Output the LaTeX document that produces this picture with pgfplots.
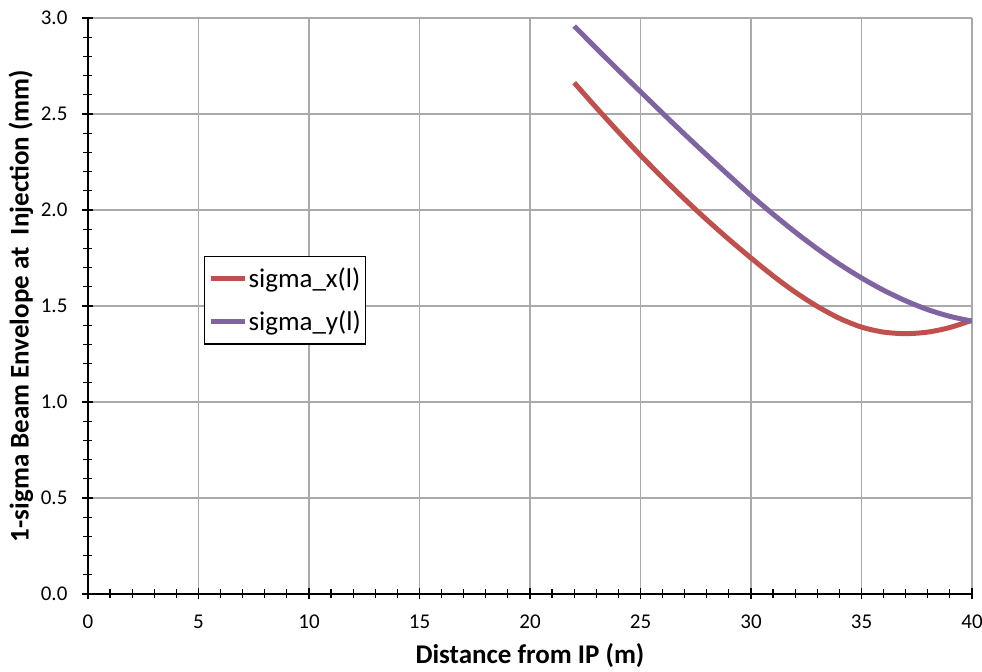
\documentclass[border=0pt]{standalone}
\usepackage{fontspec}
\setmainfont{Carlito}
\usepackage{pgfplots}
\pgfplotsset{compat=1.18}
\definecolor{sxred}{HTML}{C0504D}
\definecolor{sypurple}{HTML}{8064A2}
\definecolor{gridgray}{RGB}{170,170,170}

\begin{document}
\begin{tikzpicture}
\useasboundingbox (-44pt,-39pt) rectangle (447pt,297pt);
\begin{axis}[
    at={(0pt,0pt)}, anchor=south west,
    scale only axis,
    width=442pt, height=288pt,
    xmin=0, xmax=40, ymin=0, ymax=3,
    xtick={0,5,...,40},
    ytick={0,0.5,...,3.0},
    minor x tick num=4,
    minor y tick num=4,
    axis lines=left,
    axis line style={-, black, line width=0.8pt},
    tick align=center,
    major tick length=5.5pt,
    minor tick length=4.5pt,
    every tick/.style={black, line width=0.6pt},
    grid=major,
    major grid style={gridgray, line width=0.7pt},
    /pgf/number format/assume math mode=true,
    yticklabel style={/pgf/number format/fixed, /pgf/number format/fixed zerofill,
        /pgf/number format/precision=1, xshift=-4pt},
    tick label style={font=\fontsize{10.5}{12}\selectfont},
    xticklabel style={yshift=-4pt},
    xlabel={\textbf{Distance from IP (m)}},
    ylabel={\textbf{1-sigma Beam Envelope at\ \ Injection (mm)}},
    xlabel style={font=\fontsize{13.5}{15}\selectfont, yshift=-0.5pt},
    ylabel style={font=\fontsize{13.5}{15}\selectfont, yshift=-3pt},
    legend style={at={(0.1312,0.5868)}, anchor=north west,
        draw=black, line width=0.6pt, font=\fontsize{13.5}{16}\selectfont,
        row sep=6pt, inner xsep=2pt, inner ysep=3.5pt,
        nodes={inner xsep=0.5pt}},
    legend cell align=left,
    legend image code/.code={\draw[#1, line width=2.5pt] (0pt,0pt) -- (17pt,0pt);},
]
\addplot[sxred, line width=2.5pt, smooth] coordinates {
(22,2.663) (23,2.533) (24,2.407) (25,2.285) (26,2.168) (27,2.056) (28,1.949)
(29,1.847) (30,1.750) (31,1.657) (32,1.572) (33,1.498) (34,1.436) (35,1.390)
(36,1.364) (37,1.356) (38,1.364) (39,1.388) (40,1.426)};
\addlegendentry{sigma\_x(l)}
\addplot[sypurple, line width=2.5pt, smooth] coordinates {
(22,2.958) (23,2.842) (24,2.728) (25,2.616) (26,2.504) (27,2.394) (28,2.286)
(29,2.180) (30,2.076) (31,1.978) (32,1.885) (33,1.798) (34,1.718) (35,1.646)
(36,1.582) (37,1.527) (38,1.481) (39,1.446) (40,1.421)};
\addlegendentry{sigma\_y(l)}
\end{axis}
\end{tikzpicture}
\end{document}
